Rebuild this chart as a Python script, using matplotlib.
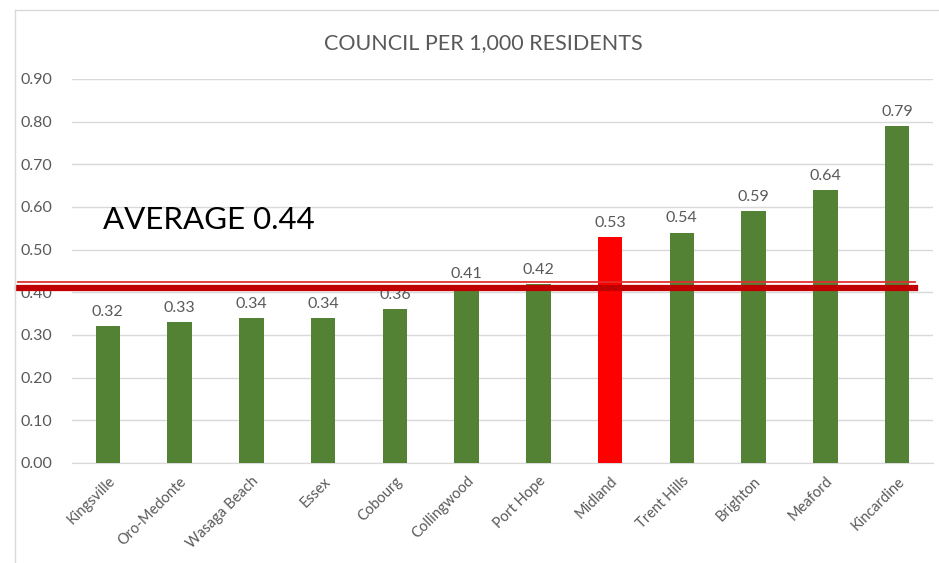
import matplotlib.pyplot as plt
from matplotlib.lines import Line2D

plt.rcParams['font.family'] = ['Lato', 'DejaVu Sans']

towns = ['Kingsville', 'Oro-Medonte', 'Wasaga Beach', 'Essex', 'Cobourg', 'Collingwood',
         'Port Hope', 'Midland', 'Trent Hills', 'Brighton', 'Meaford', 'Kincardine']
council_per_1000 = [0.32, 0.33, 0.34, 0.34, 0.36, 0.41, 0.42, 0.53, 0.54, 0.59, 0.64, 0.79]
highlight = 'Midland'
average_label = 'AVERAGE 0.44'
average_line = 0.41
yticks = [0.0, 0.1, 0.2, 0.3, 0.4, 0.5, 0.6, 0.7, 0.8, 0.9]

green = '#548235'
red = '#ff0000'
grey_text = '#595959'

fig = plt.figure(figsize=(9.39, 5.63), dpi=100)
ax = fig.add_axes([72 / 939, 1 - 463 / 563, 861 / 939, 384 / 563])

colors = [red if t == highlight else green for t in towns]
x = list(range(len(towns)))
ax.bar(x, council_per_1000, width=0.34, color=colors, zorder=3)

for xi, v in zip(x, council_per_1000):
    ax.text(xi, v + 0.017, f'{v:.2f}', ha='center', va='bottom',
            fontsize=11.5, color=grey_text, zorder=4)

ax.set_xlim(-0.5, len(towns) - 0.5)
ax.set_ylim(0, 0.9)
ax.set_yticks(yticks)
ax.set_yticklabels([f'{t:.2f}' for t in yticks], fontsize=11.5, color=grey_text)
ax.set_xticks(x)
ax.set_xticklabels(towns, rotation=45, ha='right', rotation_mode='anchor',
                   fontsize=10.5, color=grey_text)
ax.tick_params(axis='y', length=0, pad=14)
ax.tick_params(axis='x', length=0, pad=8)
ax.grid(axis='y', color='#d9d9d9', linewidth=1, zorder=0)
for s in ['top', 'right', 'left']:
    ax.spines[s].set_visible(False)
ax.spines['bottom'].set_color('#d9d9d9')

fig.text(483 / 939, 1 - 43 / 563, 'COUNCIL PER 1,000 RESIDENTS', fontsize=15.5,
         color=grey_text, ha='center', va='center')

# average line drawn across the chart, past the plot area
xs = [-0.063, 0.979]
ax.plot(xs, [average_line + 0.014] * 2, color='#e03030', linewidth=1.3,
        transform=ax.get_yaxis_transform(), clip_on=False, zorder=5)
ax.plot(xs, [average_line] * 2, color='#c00000', linewidth=4.5,
        transform=ax.get_yaxis_transform(), clip_on=False, zorder=5)

ax.text(0.036, 0.633, average_label, transform=ax.transAxes, fontsize=22.5,
        color='black', va='center', ha='left', zorder=6)

# outer chart frame
fig.add_artist(Line2D([15 / 939, 15 / 939], [0, 1 - 10 / 563], color='#d9d9d9', linewidth=1))
fig.add_artist(Line2D([15 / 939, 1], [1 - 10 / 563] * 2, color='#d9d9d9', linewidth=1))

plt.savefig('out.png', dpi=100)
